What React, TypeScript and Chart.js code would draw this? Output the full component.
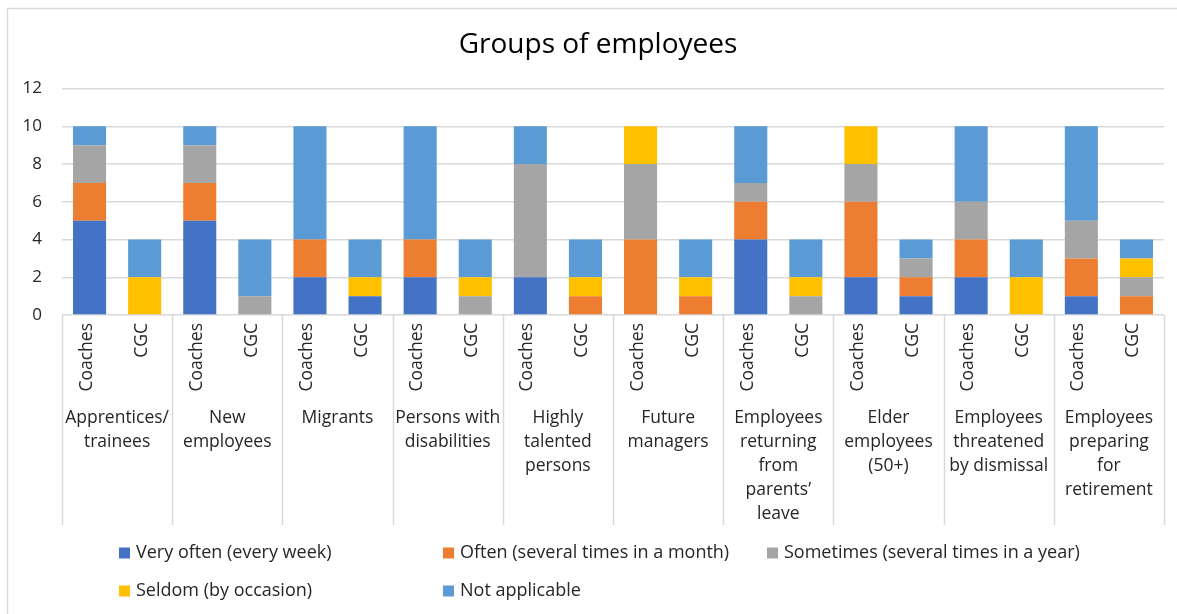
import React, { useEffect, useRef } from "react";
import { Chart, registerables } from "chart.js";

Chart.register(...registerables);

const chartTitle = "Groups of employees";

const groups: string[][] = [
  ["Apprentices/", "trainees"],
  ["New", "employees"],
  ["Migrants"],
  ["Persons with", "disabilities"],
  ["Highly", "talented", "persons"],
  ["Future", "managers"],
  ["Employees", "returning", "from", "parents’", "leave"],
  ["Elder", "employees", "(50+)"],
  ["Employees", "threatened", "by dismissal"],
  ["Employees", "preparing", "for", "retirement"],
];

const subLabels = ["Coaches", "CGC"];

// order: for each group, Coaches then CGC
const veryOften = [5, 0, 5, 0, 2, 1, 2, 0, 2, 0, 0, 0, 4, 0, 2, 1, 2, 0, 1, 0];
const often = [2, 0, 2, 0, 2, 0, 2, 0, 0, 1, 4, 1, 2, 0, 4, 1, 2, 0, 2, 1];
const sometimes = [2, 0, 2, 1, 0, 0, 0, 1, 6, 0, 4, 0, 1, 1, 2, 1, 2, 0, 2, 1];
const seldom = [0, 2, 0, 0, 0, 1, 0, 1, 0, 1, 2, 1, 0, 1, 2, 0, 0, 2, 0, 1];
const notApplicable = [1, 2, 1, 3, 6, 2, 6, 2, 2, 2, 0, 2, 3, 2, 0, 1, 4, 2, 5, 1];

const seriesNames = [
  "Very often (every week)",
  "Often (several times in a month)",
  "Sometimes (several times in a year)",
  "Seldom (by occasion)",
  "Not applicable",
];
const seriesColors = ["#4472C4", "#ED7D31", "#A5A5A5", "#FFC000", "#5B9BD5"];

const yTicks = [0, 2, 4, 6, 8, 10, 12];

const FONT = "'Open Sans', sans-serif";
const TEXT = "#262626";
const LINE = "#d9d9d9";

const categories: string[] = [];
groups.forEach(() => subLabels.forEach((s) => categories.push(s)));

const decorPlugin = {
  id: "decor",
  beforeDraw(chart: any) {
    const ctx = chart.ctx;
    ctx.save();
    ctx.fillStyle = "#ffffff";
    ctx.fillRect(0, 0, chart.width, chart.height);
    ctx.strokeStyle = LINE;
    ctx.lineWidth = 1.5;
    ctx.beginPath();
    ctx.moveTo(7.5, chart.height);
    ctx.lineTo(7.5, 8.5);
    ctx.lineTo(chart.width, 8.5);
    ctx.stroke();
    ctx.restore();
  },
  afterDraw(chart: any) {
    const ctx = chart.ctx;
    const x = chart.scales.x;
    const area = chart.chartArea;
    const nG = groups.length;
    const gw = (area.right - area.left) / nG;
    ctx.save();
    // title
    ctx.fillStyle = "#000000";
    ctx.font = `28px ${FONT}`;
    ctx.textAlign = "center";
    ctx.textBaseline = "middle";
    ctx.fillText(chartTitle, 598, 45);
    // separators
    ctx.strokeStyle = LINE;
    ctx.lineWidth = 1.5;
    for (let g = 0; g <= nG; g++) {
      const px = Math.round(area.left + g * gw) + 0.5;
      ctx.beginPath();
      ctx.moveTo(px, area.bottom);
      ctx.lineTo(px, 525);
      ctx.stroke();
    }
    // rotated sub labels
    ctx.fillStyle = TEXT;
    ctx.font = `17.5px ${FONT}`;
    categories.forEach((lab, i) => {
      const px = x.getPixelForValue(i);
      ctx.save();
      ctx.translate(px - 3, area.bottom + 8);
      ctx.rotate(-Math.PI / 2);
      ctx.textAlign = "right";
      ctx.textBaseline = "middle";
      ctx.fillText(lab, 0, 0);
      ctx.restore();
    });
    // group labels
    ctx.textAlign = "center";
    ctx.textBaseline = "middle";
    groups.forEach((lines, g) => {
      const cx = (x.getPixelForValue(2 * g) + x.getPixelForValue(2 * g + 1)) / 2;
      lines.forEach((ln, k) => {
        ctx.fillText(ln, cx, 418 + k * 24);
      });
    });
    // legend
    const cols = [119, 443, 767];
    const rows = [553, 591];
    ctx.textAlign = "left";
    ctx.font = `18px ${FONT}`;
    seriesNames.forEach((name, i) => {
      const bx = cols[i % 3];
      const by = rows[Math.floor(i / 3)];
      ctx.fillStyle = seriesColors[i];
      ctx.fillRect(bx, by - 5.5, 11, 11);
      ctx.fillStyle = TEXT;
      ctx.fillText(name, bx + 17, by);
    });
    ctx.restore();
  },
};

export default function App() {
  const ref = useRef<HTMLCanvasElement | null>(null);
  useEffect(() => {
    if (!ref.current) return;
    const values = [veryOften, often, sometimes, seldom, notApplicable];
    const chart = new Chart(ref.current, {
      type: "bar",
      data: {
        labels: categories,
        datasets: seriesNames.map((name, i) => ({
          label: name,
          data: values[i],
          backgroundColor: seriesColors[i],
          borderWidth: 0,
          barPercentage: 0.6,
          categoryPercentage: 1,
        })),
      },
      options: {
        responsive: false,
        animation: false,
        layout: { padding: { left: 0, right: 13, top: 88.5, bottom: 0 } },
        plugins: {
          legend: { display: false },
          tooltip: { enabled: false },
          title: { display: false },
        },
        scales: {
          x: {
            stacked: true,
            ticks: { display: false },
            grid: { display: false },
            border: { display: false },
            afterFit(scale: any) {
              scale.height = 614 - 315;
            },
          },
          y: {
            stacked: true,
            min: 0,
            max: 12,
            afterBuildTicks(scale: any) {
              scale.ticks = yTicks.map((v) => ({ value: v }));
            },
            ticks: {
              color: TEXT,
              font: { family: FONT, size: 17 },
              padding: 20,
            },
            grid: { color: LINE, lineWidth: 1.5, drawTicks: false },
            border: { display: false },
            afterFit(scale: any) {
              scale.width = 62;
            },
          },
        },
      },
      plugins: [decorPlugin],
    });
    return () => chart.destroy();
  }, []);
  return (
    <div style={{ position: "fixed", left: 0, top: 0, width: 1177, height: 614 }}>
      <canvas ref={ref} width={1177} height={614} style={{ display: "block" }} />
    </div>
  );
}
